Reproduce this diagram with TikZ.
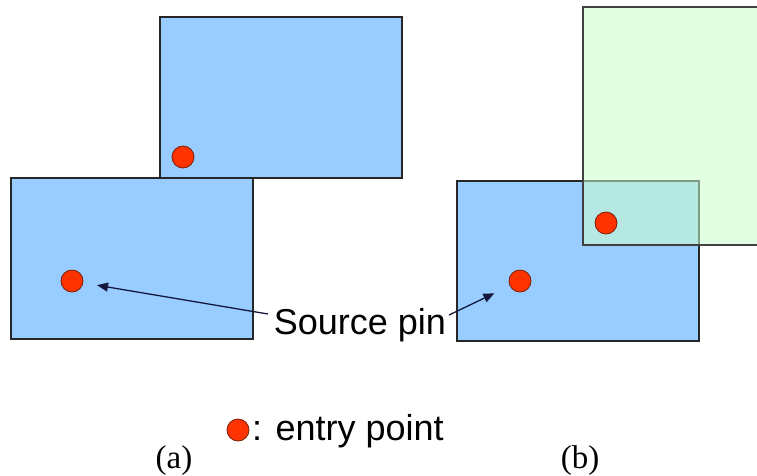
\documentclass[tikz,border=0pt]{standalone}
\usepackage{fontspec}
\setmainfont{Liberation Serif}
\newfontfamily\labelsans{Liberation Sans}
\usetikzlibrary{arrows.meta}
\definecolor{boxblue}{RGB}{153,204,255}
\definecolor{boxgreen}{RGB}{204,255,204}
\definecolor{pinred}{RGB}{255,51,0}
\definecolor{pinedge}{RGB}{120,30,10}
\definecolor{arrowink}{RGB}{20,25,60}
\tikzset{
  block/.style={fill=boxblue, draw=black!85, line width=1.3pt},
  overlay/.style={fill=boxgreen, fill opacity=0.55, draw=black!75, line width=1.3pt},
  pin/.style={circle, fill=pinred, draw=pinedge, line width=0.8pt, minimum size=22pt, inner sep=0pt},
  pointer/.style={draw=arrowink, line width=1.3pt, -{Triangle[length=11pt,width=9pt]}},
  sanslabel/.style={font=\labelsans\fontsize{36}{40}\selectfont, inner sep=0pt},
  caption/.style={font=\fontsize{33}{36}\selectfont, inner sep=0pt}
}
\begin{document}
\begin{tikzpicture}[x=1pt,y=-1pt]
\useasboundingbox (0,0) rectangle (757,475);
\clip (0,0) rectangle (757,475);

% (a): two placement blocks sharing an edge
\draw[block] (11,178) rectangle (253,339);
\draw[block] (160,17) rectangle (402,178);
\node[pin] (dotAtop) at (183,157) {};
\node[pin] (dotA) at (72,281) {};

% (b): block with an overlapping translucent region
\draw[block] (457,181) rectangle (699,341);
\draw[overlay] (583,7) rectangle (775,245);
\node[pin] (dotBgreen) at (606,223) {};
\node[pin] (dotB) at (520,281) {};

% shared label with its two pointers
\node[sanslabel, anchor=base] (src) at (360,334) {Source pin};
\coordinate (srcL) at (268,314);
\coordinate (srcR) at (449,315);
\draw[pointer, shorten >=14pt] (srcL) -- (dotA);
\draw[pointer, shorten >=17pt] (srcR) -- (dotB);

% legend
\node[pin] (legdot) at (238,430) {};
\node[sanslabel, anchor=base west] (legtxt) at (252,440) {: entry point};

% captions
\node[caption, anchor=base] (capA) at (174,468) {(a)};
\node[caption, anchor=base] (capB) at (580,468) {(b)};
\end{tikzpicture}
\end{document}
